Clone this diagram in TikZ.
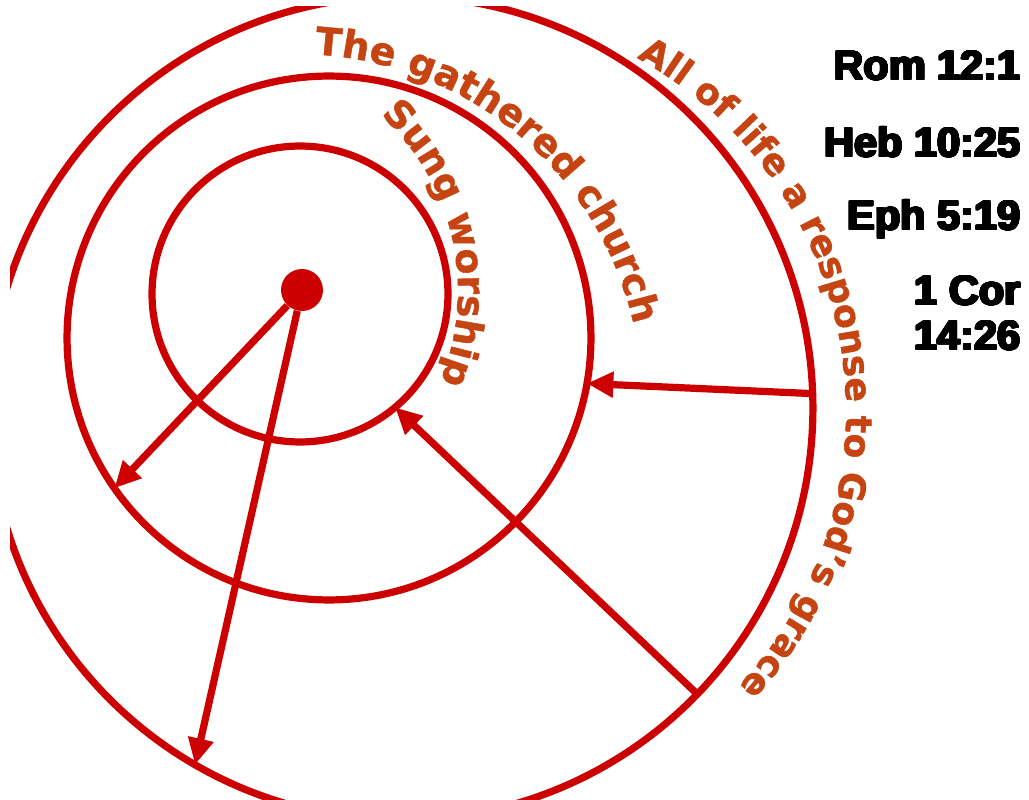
\documentclass[tikz,border=0pt]{standalone}
\usepackage{fontspec}
\usepackage{contour}
\newfontfamily\arcfont{DejaVu Sans Bold}[FakeBold=1.2]
\newfontfamily\versefont{Liberation Sans Bold}
\usetikzlibrary{arrows.meta,decorations.text,calc}
\definecolor{ringred}{RGB}{204,0,0}
\definecolor{labelorange}{RGB}{198,68,18}
\contourlength{0.55pt}
\contournumber{24}

\begin{document}
\begin{tikzpicture}[
  x=0.02cm, y=-0.02cm,
  ring/.style={circle, draw=ringred, line width=4.1pt, inner sep=0pt, outer sep=0pt},
  hubdot/.style={circle, fill=ringred, inner sep=0pt, minimum size=0.84cm},
  arrow/.style={-{Triangle[length=15pt, width=14pt]}, line width=4.1pt, ringred},
  arclabel/.style={decorate, decoration={text along path, text align=center, text color=labelorange}},
  verse/.style={anchor=base east, inner sep=0pt, font=\versefont\fontsize{23.6}{25}\selectfont}
]
\useasboundingbox (0,0) rectangle (1029,800);

\begin{scope}
\clip (10,7) rectangle (1029,800);
\node[ring, minimum size=16.48cm] (outer) at (401,408) {};
\node[ring, minimum size=10.48cm] (middle) at (329,338) {};
\node[ring, minimum size=5.92cm] (inner) at (300,294) {};
\node[hubdot] (hub) at (302,290) {};

\foreach \a/\b in {hub/middle.215.7, hub/outer.240.7, outer.2.1/middle.-10.5, outer.-44.3/inner.-50.5}
  \draw[arrow] (\a) -- (\b);
\end{scope}

% ring labels
\path[arclabel, decoration={text={|\arcfont\fontsize{21.6}{21.6}\selectfont|Sung worship}}]
  ($(219,291)+(-72.6:239)$) arc[start angle=-72.6, end angle=47.4, radius=239];
\path[arclabel, decoration={text={|\arcfont\fontsize{21.8}{21.8}\selectfont|The gathered church}}]
  ($(296,400)+(-109.75:346)$) arc[start angle=-109.75, end angle=10.25, radius=346];
\path[arclabel, decoration={text={|\arcfont\fontsize{20.7}{20.7}\selectfont|All of life a response to God’s grace}}]
  ($(442,412)+(-84.2:404)$) arc[start angle=-84.2, end angle=65.8, radius=404];

% references
\foreach \name/\yy/\txt in {rom/80/Rom 12:1, heb/157/Heb 10:25, eph/230/Eph 5:19, cor/305/1 Cor, corb/350/14:26}
  \node[verse] (\name) at (1021,\yy) {\contour{black}{\txt}};
\end{tikzpicture}
\end{document}
